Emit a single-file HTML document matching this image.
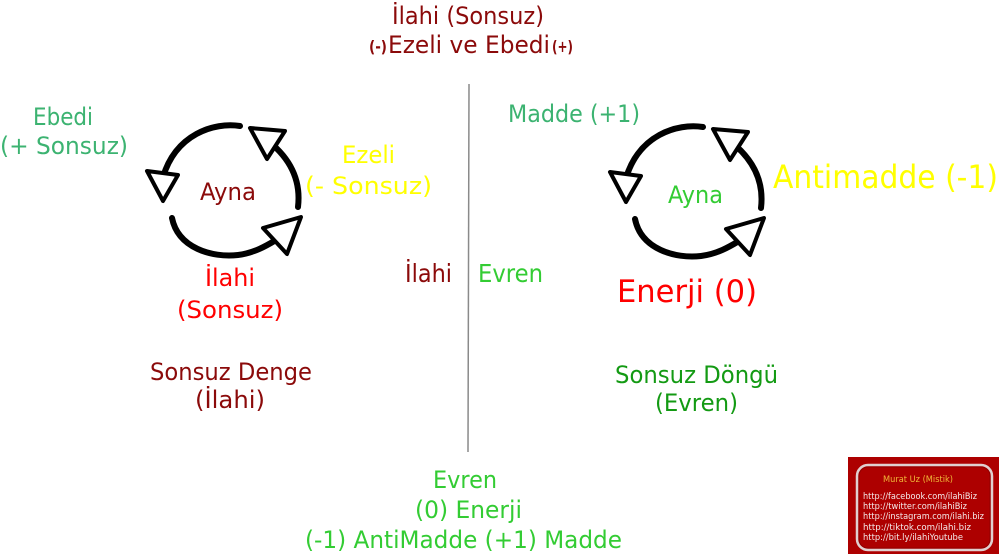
<!DOCTYPE html>
<html>
<head>
<meta charset="utf-8">
<style>
html,body{margin:0;padding:0;background:#fff;}
svg{display:block;}
text{font-family:"DejaVu Sans","Liberation Sans",sans-serif;}
</style>
</head>
<body>
<svg width="1000" height="555" viewBox="0 0 1000 555" xmlns="http://www.w3.org/2000/svg">
  <rect width="1000" height="555" fill="#fff"/>

  <!-- Title -->
  <text x="392" y="24" font-size="24" fill="#8b0a0a" textLength="152" lengthAdjust="spacingAndGlyphs">İlahi (Sonsuz)</text>
  <text x="369" y="52" font-size="16" font-weight="bold" fill="#8b0a0a" textLength="18" lengthAdjust="spacingAndGlyphs">(-)</text>
  <text x="388" y="53" font-size="24" fill="#8b0a0a" textLength="162" lengthAdjust="spacingAndGlyphs">Ezeli ve Ebedi</text>
  <text x="552" y="52" font-size="16" font-weight="bold" fill="#8b0a0a" textLength="21" lengthAdjust="spacingAndGlyphs">(+)</text>

  <!-- Vertical divider -->
  <line x1="469" y1="84" x2="468" y2="452" stroke="#8a8a8a" stroke-width="1.5"/>

  <!-- Left labels -->
  <text x="33" y="125" font-size="24" fill="#3cb371" textLength="60" lengthAdjust="spacingAndGlyphs">Ebedi</text>
  <text x="0" y="154" font-size="24" fill="#3cb371" textLength="128" lengthAdjust="spacingAndGlyphs">(+ Sonsuz)</text>
  <text x="342" y="163" font-size="24" fill="#ffff00" textLength="53" lengthAdjust="spacingAndGlyphs">Ezeli</text>
  <text x="305" y="194" font-size="24" fill="#ffff00" textLength="127" lengthAdjust="spacingAndGlyphs">(- Sonsuz)</text>
  <text x="200" y="200" font-size="24" fill="#8b0a0a" textLength="56" lengthAdjust="spacingAndGlyphs">Ayna</text>
  <text x="205" y="286" font-size="24" fill="#ff0000" textLength="50" lengthAdjust="spacingAndGlyphs">İlahi</text>
  <text x="177" y="318" font-size="24" fill="#ff0000" textLength="106" lengthAdjust="spacingAndGlyphs">(Sonsuz)</text>
  <text x="150" y="380" font-size="24" fill="#8b0a0a" textLength="162" lengthAdjust="spacingAndGlyphs">Sonsuz Denge</text>
  <text x="195" y="408" font-size="24" fill="#8b0a0a" textLength="70" lengthAdjust="spacingAndGlyphs">(İlahi)</text>

  <!-- Middle labels -->
  <text x="405" y="282" font-size="25" fill="#8b0a0a" textLength="47" lengthAdjust="spacingAndGlyphs">İlahi</text>
  <text x="478" y="282" font-size="25" fill="#33cc33" textLength="65" lengthAdjust="spacingAndGlyphs">Evren</text>

  <!-- Right labels -->
  <text x="508" y="122" font-size="24" fill="#3cb371" textLength="132" lengthAdjust="spacingAndGlyphs">Madde (+1)</text>
  <text x="668" y="203" font-size="24" fill="#33cc33" textLength="55" lengthAdjust="spacingAndGlyphs">Ayna</text>
  <text x="773" y="188" font-size="32" fill="#ffff00" textLength="225" lengthAdjust="spacingAndGlyphs">Antimadde (-1)</text>
  <text x="617" y="302" font-size="31" fill="#ff0000" textLength="140" lengthAdjust="spacingAndGlyphs">Enerji (0)</text>
  <text x="615" y="383" font-size="24" fill="#139a13" textLength="163" lengthAdjust="spacingAndGlyphs">Sonsuz Döngü</text>
  <text x="655" y="411" font-size="24" fill="#139a13" textLength="83" lengthAdjust="spacingAndGlyphs">(Evren)</text>

  <!-- Bottom labels -->
  <text x="433" y="488" font-size="24" fill="#33cc33" textLength="64" lengthAdjust="spacingAndGlyphs">Evren</text>
  <text x="415" y="518" font-size="24" fill="#33cc33" textLength="107" lengthAdjust="spacingAndGlyphs">(0) Enerji</text>
  <text x="305" y="548" font-size="24" fill="#33cc33" textLength="317" lengthAdjust="spacingAndGlyphs">(-1) AntiMadde (+1) Madde</text>

  <!-- Cycle arrows (left) -->
  <g fill="none" stroke="#000" stroke-linecap="round" stroke-linejoin="round">
    <path d="M240,126 C214,122 176,134 163,177" stroke-width="6"/>
    <path d="M298,207 C301,182 292,162 273,145" stroke-width="6"/>
    <path d="M172,218 C178,248 212,258 238,255 C254,253 266,246 276,240" stroke-width="6"/>
    <polygon points="147,171 178,175 163,201" fill="#fff" stroke-width="4"/>
    <polygon points="250,128 285,131 267,159" fill="#fff" stroke-width="4"/>
    <polygon points="263,228 301,217 287,254" fill="#fff" stroke-width="4"/>
  </g>
  <!-- Cycle arrows (right) -->
  <g transform="translate(463,1)" fill="none" stroke="#000" stroke-linecap="round" stroke-linejoin="round">
    <path d="M240,126 C214,122 176,134 163,177" stroke-width="6"/>
    <path d="M298,207 C301,182 292,162 273,145" stroke-width="6"/>
    <path d="M172,218 C178,248 212,258 238,255 C254,253 266,246 276,240" stroke-width="6"/>
    <polygon points="147,171 178,175 163,201" fill="#fff" stroke-width="4"/>
    <polygon points="250,128 285,131 267,159" fill="#fff" stroke-width="4"/>
    <polygon points="263,228 301,217 287,254" fill="#fff" stroke-width="4"/>
  </g>

  <!-- Signature box -->
  <rect x="848" y="457" width="151" height="97" fill="#ad0000"/>
  <rect x="857" y="465" width="135" height="85" rx="11" ry="11" fill="none" stroke="#e0d0d0" stroke-width="2.5"/>
  <rect x="859" y="467" width="131" height="81" rx="9" ry="9" fill="none" stroke="#8a0000" stroke-width="0.8"/>
  <text x="883" y="482" font-size="8.5" fill="#f0b838" textLength="70" lengthAdjust="spacingAndGlyphs">Murat Uz (Mistik)</text>
  <g font-size="8.5" fill="#f4eaea">
    <text x="863" y="499" textLength="114" lengthAdjust="spacingAndGlyphs">http://facebook.com/ilahiBiz</text>
    <text x="863" y="509" textLength="104" lengthAdjust="spacingAndGlyphs">http://twitter.com/ilahiBiz</text>
    <text x="863" y="519" textLength="121" lengthAdjust="spacingAndGlyphs">http://instagram.com/ilahi.biz</text>
    <text x="863" y="530" textLength="108" lengthAdjust="spacingAndGlyphs">http://tiktok.com/ilahi.biz</text>
    <text x="863" y="540" textLength="100" lengthAdjust="spacingAndGlyphs">http://bit.ly/ilahiYoutube</text>
  </g>
</svg>
</body>
</html>
